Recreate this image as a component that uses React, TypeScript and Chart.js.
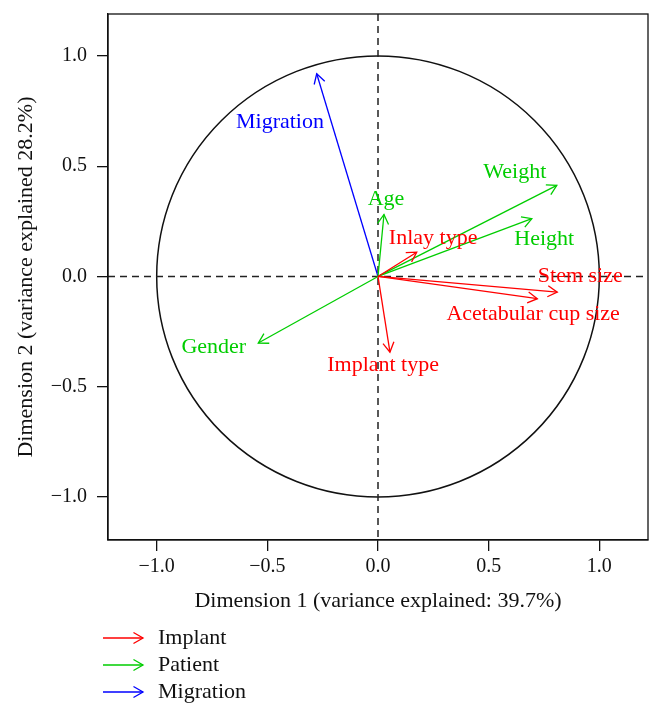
import { useEffect, useRef } from 'react';
import { Chart, registerables } from 'chart.js';

Chart.register(...registerables);

// ---- data ----
const VARIABLES = [
  'Stem size',
  'Acetabular cup size',
  'Inlay type',
  'Implant type',
  'Age',
  'Gender',
  'Weight',
  'Height',
  'Migration',
];
const VARIABLE_GROUP = [
  'Implant',
  'Implant',
  'Implant',
  'Implant',
  'Patient',
  'Patient',
  'Patient',
  'Patient',
  'Migration',
];
const DIM1 = [0.81, 0.72, 0.175, 0.054, 0.027, -0.541, 0.808, 0.695, -0.277];
const DIM2 = [-0.071, -0.101, 0.11, -0.343, 0.281, -0.302, 0.413, 0.262, 0.919];
// label anchor positions, in data units
const LABEL_DIM1 = [0.914, 0.701, 0.249, 0.023, 0.036, -0.742, 0.618, 0.751, -0.443];
const LABEL_DIM2 = [0.0, -0.172, 0.172, -0.404, 0.349, -0.322, 0.472, 0.168, 0.698];

const GROUPS = ['Implant', 'Patient', 'Migration'];
const GROUP_COLORS = ['#ff0000', '#00cd00', '#0000ff'];

const X_TICKS = [-1, -0.5, 0, 0.5, 1];
const Y_TICKS = [-1, -0.5, 0, 0.5, 1];
const X_TITLE = 'Dimension 1 (variance explained: 39.7%)';
const Y_TITLE = 'Dimension 2 (variance explained 28.2%)';

const FONT = '"Liberation Serif", "Times New Roman", serif';

const colorOf = (group: string) => GROUP_COLORS[GROUPS.indexOf(group)];

const fmt = (v: number | string) => {
  const n = Number(v);
  return n < 0 ? '\u2212' + Math.abs(n).toFixed(1) : n.toFixed(1);
};

function drawArrowHead(ctx: CanvasRenderingContext2D, x0: number, y0: number, x1: number, y1: number, len: number) {
  const a = Math.atan2(y1 - y0, x1 - x0);
  const spread = Math.PI / 6;
  ctx.beginPath();
  ctx.moveTo(x1 - len * Math.cos(a - spread), y1 - len * Math.sin(a - spread));
  ctx.lineTo(x1, y1);
  ctx.lineTo(x1 - len * Math.cos(a + spread), y1 - len * Math.sin(a + spread));
  ctx.stroke();
}

const biplotPlugin = {
  id: 'biplot',
  beforeDatasetsDraw(chart: any) {
    const { ctx, chartArea, scales } = chart;
    const { left, right, top, bottom } = chartArea;
    const x = scales.x;
    const y = scales.y;
    ctx.save();
    const cx = x.getPixelForValue(0);
    const cy = y.getPixelForValue(0);
    const rx = x.getPixelForValue(1) - cx;
    const ry = cy - y.getPixelForValue(1);
    ctx.beginPath();
    ctx.ellipse(cx, cy, rx, ry, 0, 0, Math.PI * 2);
    ctx.lineWidth = 1.5;
    ctx.strokeStyle = '#111';
    ctx.stroke();

    ctx.setLineDash([7, 5]);
    ctx.lineWidth = 1.5;
    ctx.strokeStyle = '#222';
    ctx.beginPath();
    ctx.moveTo(left, cy);
    ctx.lineTo(right, cy);
    ctx.moveTo(cx, top);
    ctx.lineTo(cx, bottom);
    ctx.stroke();
    ctx.restore();
  },
  afterDatasetsDraw(chart: any) {
    const { ctx, chartArea, scales } = chart;
    const x = scales.x;
    const y = scales.y;
    ctx.save();
    // arrow heads
    ctx.lineWidth = 1.3;
    VARIABLES.forEach((_, i) => {
      ctx.strokeStyle = colorOf(VARIABLE_GROUP[i]);
      drawArrowHead(
        ctx,
        x.getPixelForValue(0),
        y.getPixelForValue(0),
        x.getPixelForValue(DIM1[i]),
        y.getPixelForValue(DIM2[i]),
        11
      );
    });
    // labels
    ctx.font = `22px ${FONT}`;
    ctx.textAlign = 'center';
    ctx.textBaseline = 'middle';
    VARIABLES.forEach((name, i) => {
      ctx.fillStyle = colorOf(VARIABLE_GROUP[i]);
      ctx.fillText(name, x.getPixelForValue(LABEL_DIM1[i]), y.getPixelForValue(LABEL_DIM2[i]));
    });
    // box
    ctx.strokeStyle = '#111';
    ctx.lineWidth = 1.3;
    ctx.strokeRect(chartArea.left, chartArea.top, chartArea.right - chartArea.left, chartArea.bottom - chartArea.top);

    // legend
    const legendTop = 638;
    const rowH = 27;
    ctx.textAlign = 'left';
    ctx.font = `22px ${FONT}`;
    GROUPS.forEach((g, i) => {
      const yy = legendTop + i * rowH;
      ctx.strokeStyle = GROUP_COLORS[i];
      ctx.lineWidth = 1.3;
      ctx.beginPath();
      ctx.moveTo(103, yy);
      ctx.lineTo(143, yy);
      ctx.stroke();
      drawArrowHead(ctx, 103, yy, 143, yy, 11);
      ctx.fillStyle = '#111';
      ctx.fillText(g, 158, yy);
    });
    ctx.restore();
  },
};

export default function App() {
  const ref = useRef<HTMLCanvasElement | null>(null);
  useEffect(() => {
    if (!ref.current) return;
    const chart = new Chart(ref.current, {
      type: 'scatter',
      data: {
        datasets: VARIABLES.map((name, i) => ({
          label: name,
          data: [
            { x: 0, y: 0 },
            { x: DIM1[i], y: DIM2[i] },
          ],
          showLine: true,
          borderColor: colorOf(VARIABLE_GROUP[i]),
          backgroundColor: colorOf(VARIABLE_GROUP[i]),
          borderWidth: 1.3,
          pointRadius: 0,
          fill: false,
        })),
      },
      options: {
        responsive: false,
        animation: false,
        devicePixelRatio: 1,
        layout: { padding: { left: 0, top: 14, right: 14, bottom: 105 } },
        plugins: { legend: { display: false }, tooltip: { enabled: false } },
        scales: {
          x: {
            type: 'linear',
            min: -1.22,
            max: 1.22,
            afterBuildTicks: (s: any) => {
              s.ticks = X_TICKS.map((v) => ({ value: v }));
            },
            afterFit: (s: any) => {
              s.height = 74;
              s.paddingLeft = 0;
              s.paddingRight = 0;
            },
            grid: { drawOnChartArea: false, drawTicks: true, tickLength: 11, color: '#111', lineWidth: 1.3 },
            border: { display: true, color: '#111', width: 1.3 },
            ticks: {
              color: '#111',
              font: { family: FONT, size: 20 },
              padding: 4,
              maxRotation: 0,
              autoSkip: false,
              callback: (v: any) => fmt(v),
            },
            title: { display: true, text: X_TITLE, color: '#111', font: { family: FONT, size: 22 }, padding: 0 },
          },
          y: {
            type: 'linear',
            min: -1.195,
            max: 1.19,
            afterBuildTicks: (s: any) => {
              s.ticks = Y_TICKS.map((v) => ({ value: v }));
            },
            afterFit: (s: any) => {
              s.width = 108;
              s.paddingTop = 0;
              s.paddingBottom = 0;
            },
            grid: { drawOnChartArea: false, drawTicks: true, tickLength: 11, color: '#111', lineWidth: 1.3 },
            border: { display: true, color: '#111', width: 1.3 },
            ticks: {
              color: '#111',
              font: { family: FONT, size: 20 },
              padding: 10,
              autoSkip: false,
              callback: (v: any) => fmt(v),
            },
            title: {
              display: true,
              text: Y_TITLE,
              color: '#111',
              font: { family: FONT, size: 22 },
              padding: { top: 13, bottom: 0 },
            },
          },
        },
      },
      plugins: [biplotPlugin],
    });
    return () => chart.destroy();
  }, []);

  return (
    <div style={{ position: 'absolute', left: 0, top: 0, width: 662, height: 719, background: '#fff' }}>
      <canvas ref={ref} width={662} height={719} style={{ display: 'block', width: 662, height: 719 }} />
    </div>
  );
}
